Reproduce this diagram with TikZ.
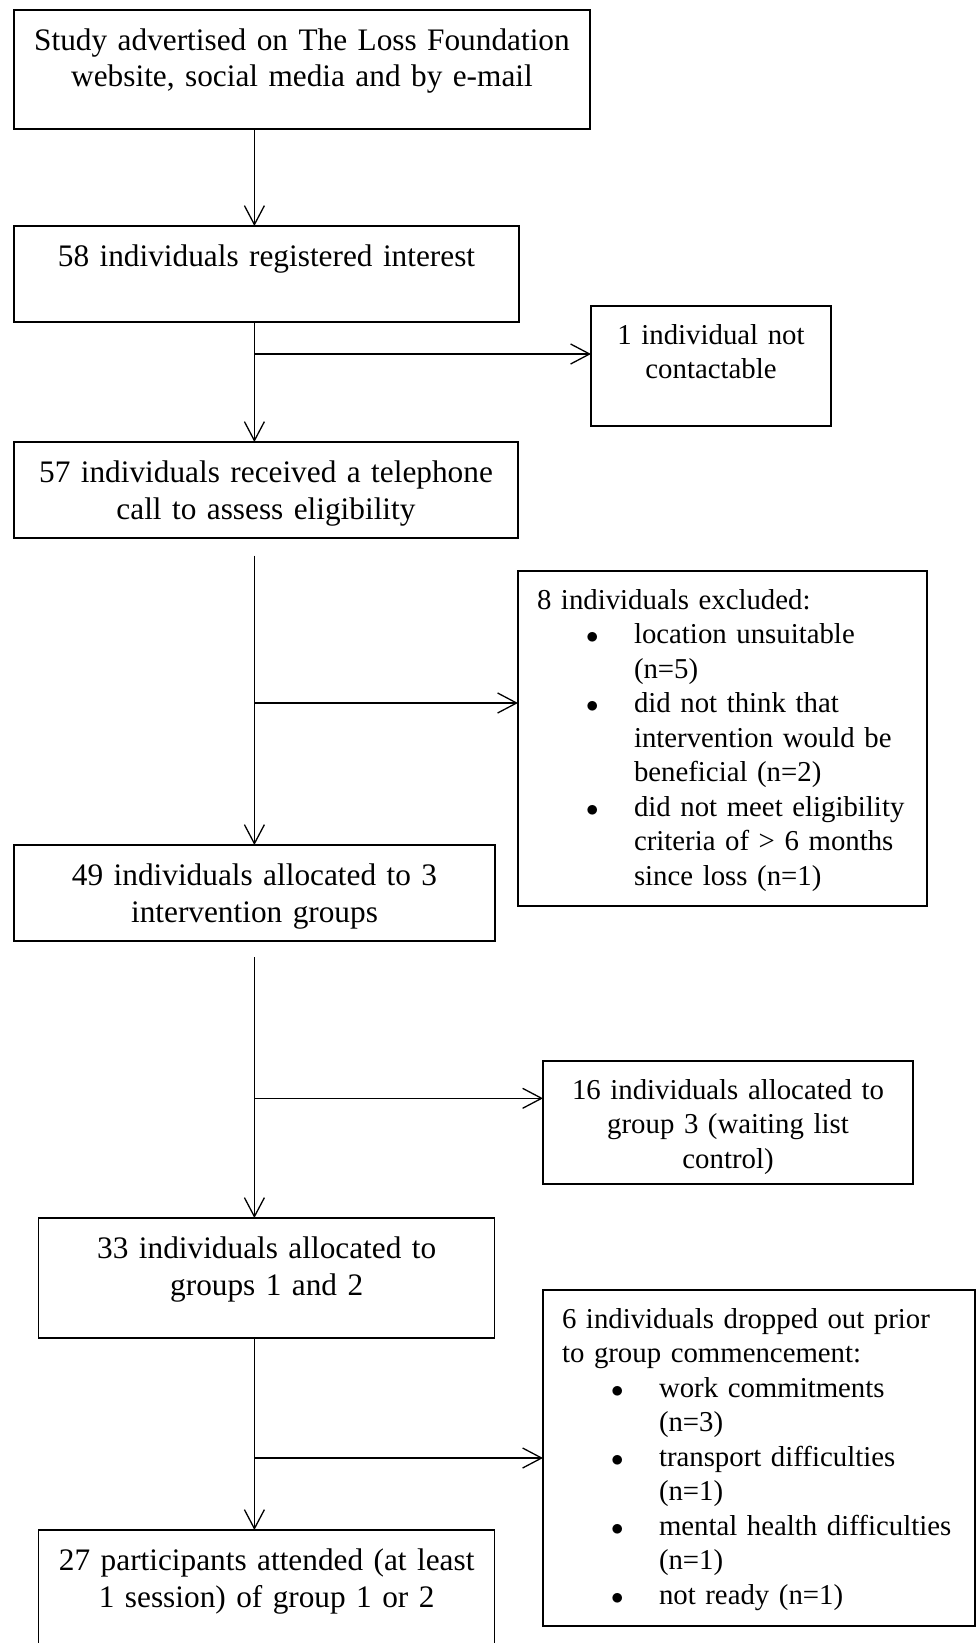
\documentclass[tikz,border=0pt]{standalone}
\usepackage{fontspec}
\setmainfont{Liberation Serif}
\usepackage{tikz}
\usetikzlibrary{arrows.meta,calc}
\newcommand{\mainsize}{\fontsize{31.3}{36.5}\selectfont}
\newcommand{\sidesize}{\fontsize{28.8}{34.5}\selectfont}
\newcommand{\itm}[1]{\hspace*{49pt}\makebox[48pt][l]{$\bullet$}\mbox{#1}}
\newcommand{\cont}[1]{\hspace*{97pt}\mbox{#1}}

\begin{document}
\begin{tikzpicture}[x=1pt,y=-1pt,
  box/.style={draw,line width=1.3pt,anchor=north west,outer sep=0pt,inner ysep=0pt,inner xsep=10pt,align=center},
  mainbox/.style={box,font=\mainsize,text height=40.5pt},
  sidebox/.style={box,font=\sidesize,text height=38pt},
  listbox/.style={sidebox,inner xsep=19pt,align=left},
  arr/.style={line width=1.3pt,-{Straight Barb[length=19pt,width=20pt,line width=1.3pt]}}]
\path[use as bounding box,clip] (0,0) rectangle (978,1643);

\node[mainbox,text width=556pt,text depth=78.5pt] (advert) at (14,10)
  {Study advertised on The Loss Foundation\\website, social media and by e-mail};
\node[mainbox,text width=485pt,text depth=55.5pt] (interest) at (14,226)
  {58 individuals registered interest};
\node[sidebox,text width=220pt,text depth=82pt] (nocontact) at (591,306)
  {1 individual not\\contactable};
\node[mainbox,text width=484pt,text depth=55.5pt] (phone) at (14,442)
  {57 individuals received a telephone\\call to assess eligibility};
\node[listbox,text width=371pt,text depth=297pt] (excluded) at (518,571)
  {8 individuals excluded:\\
   \itm{location unsuitable}\\
   \cont{(n=5)}\\
   \itm{did not think that}\\
   \cont{intervention would be}\\
   \cont{beneficial (n=2)}\\
   \itm{did not meet eligibility}\\
   \cont{criteria of > 6 months}\\
   \cont{since loss (n=1)}};
\node[mainbox,text width=461pt,text depth=55.5pt] (alloc3) at (14,845)
  {49 individuals allocated to 3\\intervention groups};
\node[sidebox,text width=350pt,text depth=85pt] (waitlist) at (543,1061)
  {16 individuals allocated to\\group 3 (waiting list\\control)};
\node[mainbox,text width=436pt,text depth=79.5pt] (alloc12) at (38.7,1218)
  {33 individuals allocated to\\groups 1 and 2};
\node[listbox,text width=394pt,text depth=298pt] (dropout) at (543,1290)
  {6 individuals dropped out prior\\
   to group commencement:\\
   \itm{work commitments}\\
   \cont{(n=3)}\\
   \itm{transport difficulties}\\
   \cont{(n=1)}\\
   \itm{mental health difficulties}\\
   \cont{(n=1)}\\
   \itm{not ready (n=1)}};
\node[mainbox,text width=436pt,text depth=79.5pt] (attended) at (38.7,1530)
  {27 participants attended (at least\\1 session) of group 1 or 2};

\coordinate (spine) at (254.4,0);
\coordinate (j1) at (254.4,354);
\coordinate (s2) at (254.4,555.5);
\coordinate (j2) at (254.4,703);
\coordinate (s3) at (254.4,957);
\coordinate (j3) at (254.4,1098.3);
\coordinate (j4) at (254.4,1458);

\draw[arr] (advert.south -| spine) -- (interest.north -| spine);
\draw[arr] (interest.south -| spine) -- (phone.north -| spine);
\draw[arr] (j1) -- (j1 -| nocontact.west);
\draw[arr] (s2) -- (alloc3.north -| s2);
\draw[arr] (j2) -- (j2 -| excluded.west);
\draw[arr] (s3) -- (alloc12.north -| s3);
\draw[arr] (j3) -- (j3 -| waitlist.west);
\draw[arr] (alloc12.south -| spine) -- (attended.north -| spine);
\draw[arr] (j4) -- (j4 -| dropout.west);
\end{tikzpicture}
\end{document}
